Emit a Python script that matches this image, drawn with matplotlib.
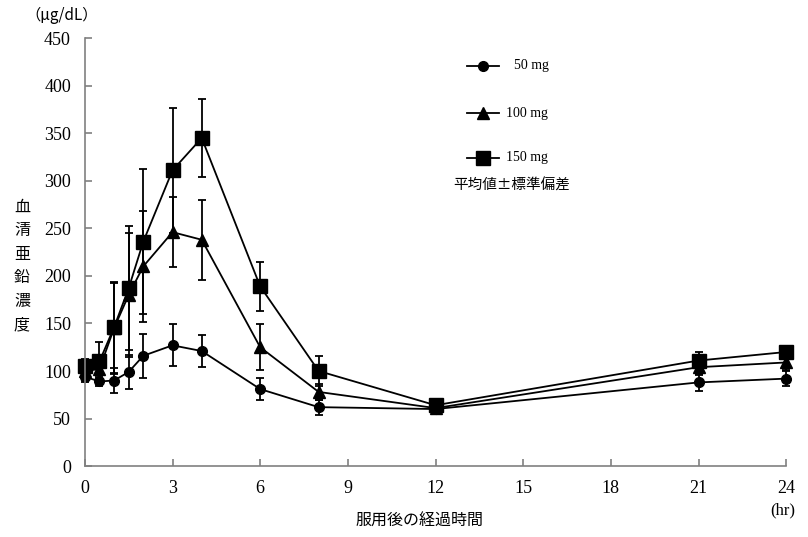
import matplotlib
matplotlib.use("Agg")
import matplotlib.pyplot as plt

t = [0, 0.5, 1, 1.5, 2, 3, 4, 6, 8, 12, 21, 24]
mg50 = [94, 89, 90, 99, 116, 127, 121, 81, 62, 60, 88, 92]
mg50_sd = [6, 5, 13, 18, 23, 22, 17, 12, 8, 5, 9, 8]
mg100 = [100, 102, 145, 180, 210, 246, 238, 125, 78, 61, 104, 109]
mg100_sd = [6, 15, 48, 65, 58, 37, 42, 24, 8, 5, 8, 8]
mg150 = [105, 110, 146, 187, 236, 311, 345, 189, 100, 64, 111, 120]
mg150_sd = [8, 20, 48, 65, 76, 66, 41, 26, 16, 5, 9, 6]
labels = ["50 mg", "100 mg", "150 mg"]
xticks = [0, 3, 6, 9, 12, 15, 18, 21, 24]
yticks = [0, 50, 100, 150, 200, 250, 300, 350, 400, 450]

serif = "Liberation Serif"
cjk = ["Noto Sans CJK JP", "DejaVu Sans"]

fig = plt.figure(figsize=(8.08, 5.37), dpi=100)
ax = fig.add_axes([0.105, 0.132, 0.868, 0.797])

series = [(mg50, mg50_sd, "o", 7), (mg100, mg100_sd, "^", 9), (mg150, mg150_sd, "s", 10.5)]
for (y, sd, m, ms) in series:
    ax.errorbar(t, y, yerr=sd, color="black", lw=1.3, marker=m, ms=ms,
                capsize=3, elinewidth=1.3, capthick=1.3, clip_on=False)

ax.set_xlim(0, 24)
ax.set_ylim(0, 450)
ax.set_xticks(xticks)
ax.set_yticks(yticks)
for s in ["top", "right"]:
    ax.spines[s].set_visible(False)
for s in ["left", "bottom"]:
    ax.spines[s].set_color("#808080")
    ax.spines[s].set_linewidth(1.2)
ax.tick_params(direction="in", length=5, color="#808080", width=1.2,
               labelsize=13)
ax.tick_params(axis="y", pad=10)
ax.tick_params(axis="x", pad=10)
for lab in ax.get_xticklabels() + ax.get_yticklabels():
    lab.set_fontfamily(serif)

# legend drawn manually in axes coords
leg_y = [0.935, 0.825, 0.72]
for (y, sd, m, ms), ly, lab in zip(series, leg_y, labels):
    ax.plot([0.545, 0.59], [ly, ly], color="black", lw=1.3, transform=ax.transAxes)
    ax.plot([0.5675], [ly], marker=m, ms=ms, color="black", transform=ax.transAxes)
    ax.text(0.60 if lab != "50 mg" else 0.612, ly, lab, transform=ax.transAxes,
            fontfamily=serif, fontsize=10, va="center", ha="left")
ax.text(0.526, 0.655, "平均値±標準偏差", transform=ax.transAxes,
        fontfamily=cjk, fontsize=10.5, va="center", ha="left")

fig.text(25 / 808, 1 - 15 / 537, "（μg/dL）", fontfamily=cjk, fontsize=11,
         va="center", ha="left")
fig.text(783 / 808, 1 - 510 / 537, "(hr)", fontfamily=serif, fontsize=12,
         va="center", ha="center")
fig.text(420 / 808, 1 - 521 / 537, "服用後の経過時間", fontfamily=cjk, fontsize=11.5,
         va="center", ha="center")
ychars = "血清亜鉛濃度"
for i, ch in enumerate(ychars):
    fig.text(22 / 808, 1 - (207 + i * 23.5) / 537, ch, fontfamily=cjk, fontsize=11.5,
             va="center", ha="center")

fig.savefig("out.png", dpi=100)
